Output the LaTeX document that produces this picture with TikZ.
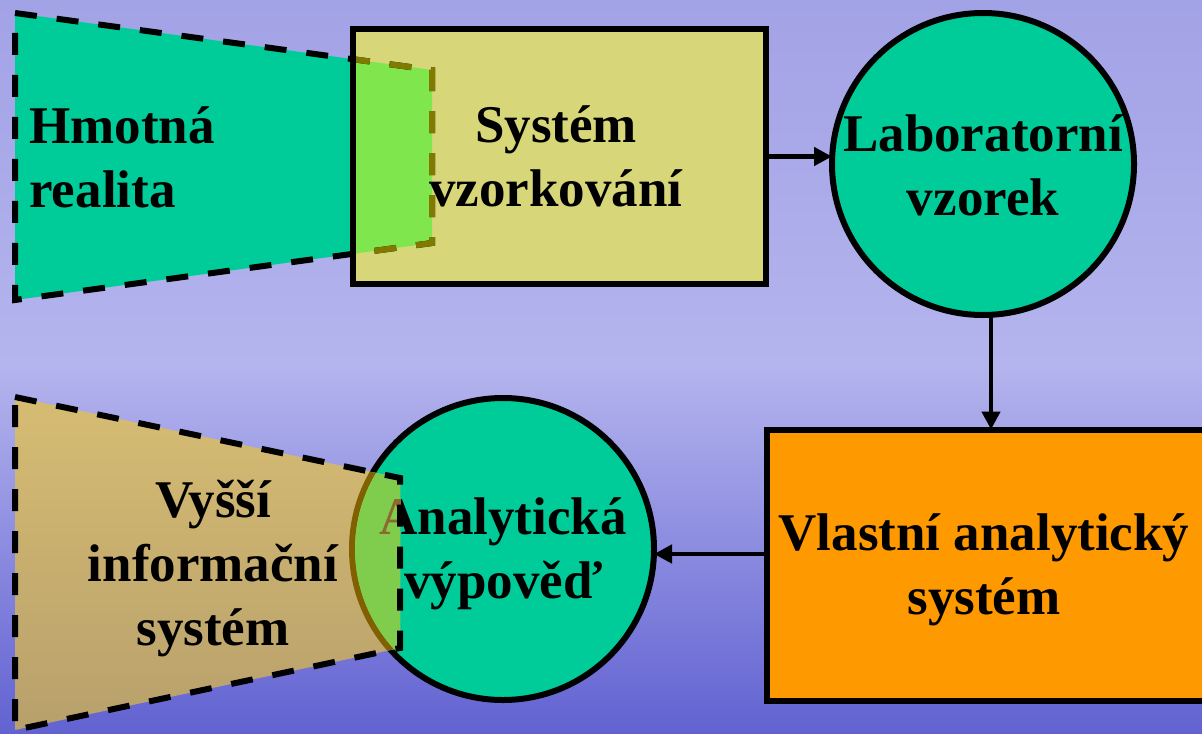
\documentclass[tikz,border=0pt]{standalone}
\usepackage{fontspec}
\setmainfont{Liberation Serif}
\usetikzlibrary{arrows.meta}
\definecolor{bgtop}{HTML}{A2A2E6}
\definecolor{bgmid}{HTML}{B4B4EE}
\definecolor{bgbot}{HTML}{6262D2}
\definecolor{ballgreen}{HTML}{00CC99}
\definecolor{sysyellow}{HTML}{D7D679}
\definecolor{lightgreen}{HTML}{80E64D}
\definecolor{midgreen}{HTML}{80CC4D}
\definecolor{olivedash}{HTML}{807A00}
\definecolor{tantop}{HTML}{D6BC72}
\definecolor{tanbot}{HTML}{B8A06C}
\definecolor{brownline}{HTML}{806000}
\definecolor{browntxt}{HTML}{8C6A2E}
\definecolor{orangebox}{HTML}{FF9900}

\begin{document}
\begin{tikzpicture}[x=0.5pt,y=-0.5pt,
		txt/.style={font=\fontsize{26.5pt}{32pt}\selectfont\bfseries, align=center, inner sep=0pt},
		blk/.style={rectangle, inner sep=0pt, outer sep=0pt},
		ball/.style={draw, line width=3pt, circle, fill=ballgreen, minimum size=151pt, inner sep=0pt, outer sep=0pt},
		dsh/.style={line width=3pt, dash pattern=on 11pt off 10pt},
		arr/.style={line width=2.4pt, -{Triangle[length=9pt,width=9pt]}}]
	\shade[top color=bgtop, bottom color=bgbot, middle color=bgmid] (0,0) rectangle (1202,733);
	\useasboundingbox (0,0) rectangle (1202,733);

	% upper part
	\coordinate (ha) at (15,13);
	\coordinate (hb) at (432,70);
	\coordinate (hc) at (432,243);
	\coordinate (hd) at (15,300);
	\fill[ballgreen] (ha) -- (hb) -- (hc) -- (hd) -- cycle;
	\node[blk, fill=sysyellow, minimum width=206.5pt, minimum height=127pt] (sys) at (559,156.5) {};
	\begin{scope}
		\clip (sys.south west) rectangle (sys.north east);
		\fill[lightgreen] (ha) -- (hb) -- (hc) -- (hd) -- cycle;
	\end{scope}
	\draw[dsh] (ha) -- (hb) -- (hc) -- (hd) -- cycle;
	\begin{scope}
		\clip (sys.south west) rectangle (sys.north east);
		\draw[dsh, olivedash] (ha) -- (hb) -- (hc) -- (hd) -- cycle;
	\end{scope}
	\draw[line width=3pt] (sys.south west) rectangle (sys.north east);
	\node[txt, align=left, anchor=west] (hmo) at (29,157) {Hmotná\\realita};
	\node[txt] (systxt) at (556,156) {Systém\\vzorkování};
	\node[ball] (lab) at (983,164) {};
	\node[txt] (labtxt) at (983,165) {Laboratorní\\vzorek};

	% lower part
	\node[blk, draw, line width=3pt, fill=orangebox, minimum width=223.75pt, minimum height=135.5pt] (vas) at (991,565) {};
	\node[txt] (vastxt) at (984,570) {Vlastní analytický\\systém};
	\node[ball] (ana) at (503,549) {};
	\coordinate (va) at (15,397);
	\coordinate (vb) at (400,478);
	\coordinate (vc) at (400,648);
	\coordinate (vd) at (15,730);
	\shade[top color=tantop, bottom color=tanbot] (va) -- (vb) -- (vc) -- (vd) -- cycle;
	\begin{scope}
		\clip (va) -- (vb) -- (vc) -- (vd) -- cycle;
		\fill[midgreen] (ana) circle[radius=151];
		\draw[line width=3pt, brownline] (ana) circle[radius=151];
	\end{scope}
	\node[txt] (anatxt) at (503,553.5) {Analytická\\výpověď};
	\begin{scope}
		\clip (va) -- (vb) -- (vc) -- (vd) -- cycle;
		\fill[midgreen] (ana) circle[radius=148];
		\node[txt, text=browntxt] at (anatxt.center) {Analytická\\výpověď};
	\end{scope}
	\draw[dsh] (va) -- (vb) -- (vc) -- (vd) -- cycle;
	\node[txt] (vys) at (213,569) {Vyšší\\informační\\systém};

	\draw[arr] (sys.east) -- (sys.east -| lab.west);
	\draw[arr] (lab.south -| vas.north) -- (vas.north);
	\draw[arr] ([yshift=-2.5pt]vas.west |- ana.east) -- ([yshift=-2.5pt]ana.east);
\end{tikzpicture}
\end{document}
